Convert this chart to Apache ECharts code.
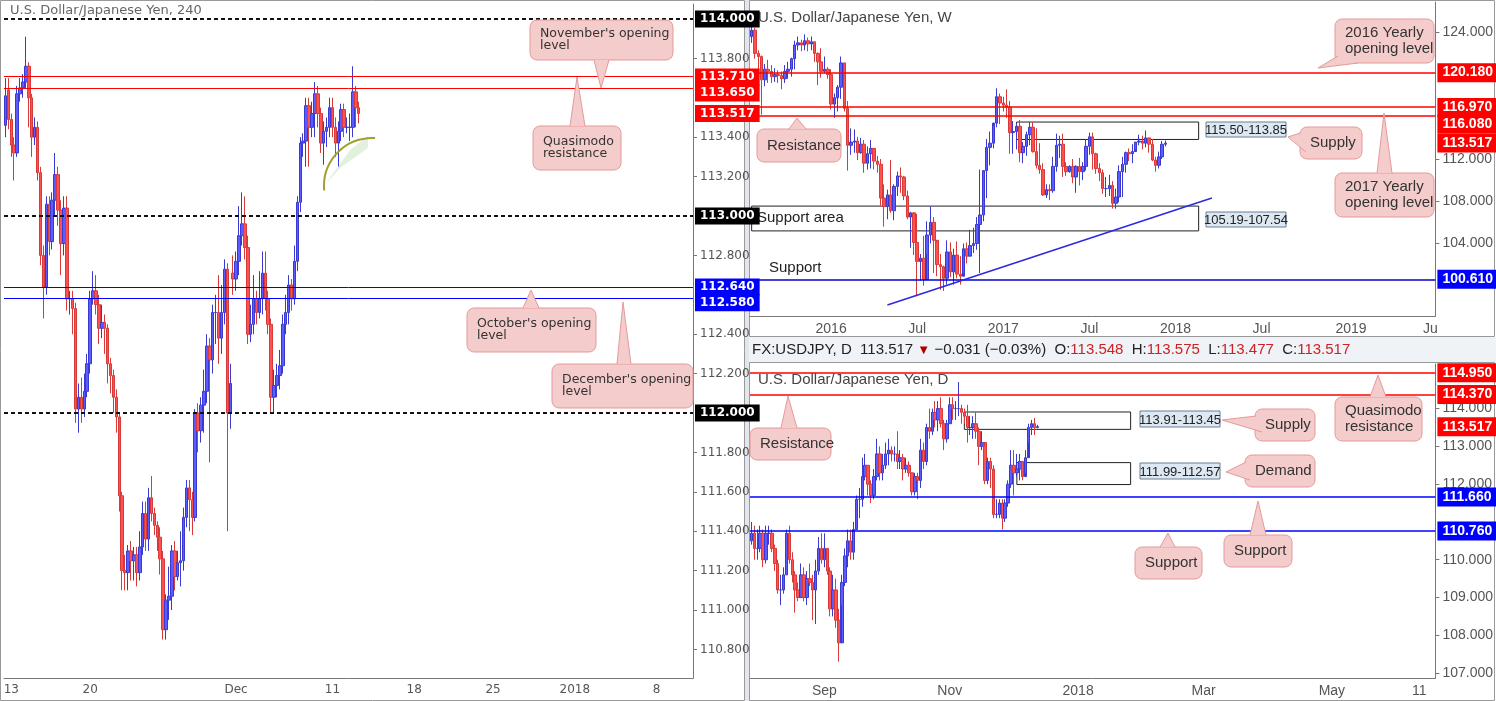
<!DOCTYPE html>
<html lang="en">
<head>
    <meta charset="UTF-8">
    <title>USDJPY</title>
    <script src="https://cdn.jsdelivr.net/npm/echarts@6/dist/echarts.min.js"></script>
    <style>
        html, body { margin: 0; padding: 0; background: #fff; }
        #main { width: 1496px; height: 701px; }
    </style>
</head>
<body>
<div id="main"></div>
<script>
// ---- 4h candles [open, close, low, high] ----
var h4Candles = [
 [113.46,113.61,113.40,113.70],[113.64,113.49,113.44,113.70],[113.49,113.36,113.30,113.52],[113.36,113.32,113.18,113.40],
 [113.32,113.62,113.30,113.66],[113.62,113.65,113.58,113.70],[113.65,113.68,113.60,113.72],[113.68,113.76,113.65,113.91],
 [113.76,113.60,113.45,113.78],[113.60,113.40,113.30,113.62],[113.40,113.45,113.36,113.50],[113.45,113.22,113.18,113.48],
 [113.22,112.80,112.75,113.25],[112.80,112.64,112.48,112.85],[112.64,113.06,112.60,113.10],[113.06,112.87,112.80,113.10],
 [112.87,113.08,112.83,113.12],[113.08,113.21,113.00,113.32],[113.21,113.03,112.95,113.25],[113.03,112.86,112.70,113.08],
 [112.86,113.04,112.80,113.10],[113.04,112.58,112.52,113.10],[112.58,112.58,112.50,112.62],[112.58,112.53,112.40,112.62],
 [112.53,112.02,111.95,112.56],[112.02,112.08,111.90,112.15],[112.08,112.02,111.95,112.18],[112.02,112.11,111.98,112.20],
 [112.11,112.25,112.08,112.30],[112.25,112.58,112.20,112.62],[112.58,112.62,112.55,112.72],[112.62,112.55,112.50,112.70],
 [112.55,112.43,112.35,112.60],[112.43,112.46,112.38,112.55],[112.46,112.43,112.30,112.50],[112.43,112.25,112.15,112.45],
 [112.25,112.19,112.10,112.28],[112.19,112.08,112.00,112.22],[112.08,111.98,111.90,112.12],[111.98,111.58,111.50,112.00],
 [111.58,111.20,111.10,111.60],[111.20,111.19,111.10,111.28],[111.19,111.30,111.10,111.33],[111.30,111.25,111.15,111.35],
 [111.25,111.28,111.15,111.32],[111.28,111.19,111.12,111.32],[111.19,111.32,111.15,111.40],[111.32,111.49,111.28,111.55],
 [111.49,111.36,111.30,111.55],[111.36,111.57,111.30,111.62],[111.57,111.49,111.45,111.68],[111.49,111.43,111.38,111.52],
 [111.43,111.37,111.30,111.45],[111.37,111.26,111.18,111.42],[111.26,110.90,110.85,111.30],[110.90,111.05,110.85,111.08],
 [111.05,111.07,110.95,111.22],[111.07,111.30,111.00,111.33],[111.30,111.17,111.10,111.35],[111.17,111.24,111.15,111.30],
 [111.24,111.25,111.12,111.40],[111.25,111.47,111.20,111.52],[111.47,111.62,111.42,111.66],[111.62,111.56,111.40,111.66],
 [111.56,111.47,111.38,111.60],[111.47,112.00,111.45,112.02],[112.00,111.91,111.80,112.05],[111.91,112.04,111.85,112.08],
 [112.04,112.11,111.90,112.22],[112.11,112.34,112.05,112.40],[112.34,112.27,111.75,112.38],[112.27,112.51,112.20,112.55],
 [112.51,112.51,112.35,112.60],[112.51,112.38,112.25,112.70],[112.38,112.51,112.30,112.65],[112.51,112.73,112.45,112.78],
 [112.73,112.00,111.40,112.76],[112.00,112.15,111.92,112.25],[112.71,112.68,112.60,112.80],[112.68,112.77,112.62,112.82],
 [112.77,112.90,112.70,113.05],[112.90,112.96,112.85,113.12],[112.96,112.84,112.78,113.10],[112.84,112.40,112.35,112.90],
 [112.40,112.45,112.36,112.55],[112.45,112.58,112.40,112.70],[112.58,112.51,112.45,112.62],[112.51,112.58,112.48,112.72],
 [112.58,112.71,112.50,112.82],[112.71,112.58,112.52,112.82],[112.58,112.45,112.40,112.62],[112.45,112.08,112.00,112.48],
 [112.08,112.14,112.00,112.22],[112.14,112.19,112.08,112.25],[112.19,112.24,112.12,112.32],[112.24,112.45,112.20,112.50],
 [112.45,112.51,112.40,112.60],[112.51,112.65,112.45,112.70],[112.65,112.58,112.52,112.68],[112.58,112.77,112.55,112.85],
 [112.77,113.07,112.72,113.10],[113.07,113.37,113.02,113.40],[113.37,113.38,113.30,113.42],[113.38,113.56,113.25,113.60],
 [113.56,113.45,113.25,113.60],[113.45,113.52,113.40,113.58],[113.52,113.62,113.40,113.68],[113.62,113.52,113.45,113.66],
 [113.52,113.37,113.32,113.55],[113.37,113.43,113.26,113.48],[113.43,113.45,113.35,113.50],[113.45,113.55,113.40,113.60],
 [113.55,113.45,113.40,113.60],[113.45,113.37,113.30,113.50],[113.37,113.43,113.25,113.48],[113.43,113.54,113.38,113.57],
 [113.54,113.45,113.40,113.57],[113.45,113.45,113.42,113.50],[113.45,113.45,113.38,113.52],[113.45,113.63,113.40,113.76],
 [113.63,113.55,113.45,113.66],[113.55,113.52,113.47,113.58]
];
var h4Slots = 236;
var h4TickIdx = [2, 29, 79, 112, 140, 167, 195, 223];
var h4TickText = ['13', '20', 'Dec', '11', '18', '25', '2018', '8'];
var h4AxisValues = [110.8, 111, 111.2, 111.4, 111.6, 111.8, 112.2, 112.4, 112.8, 113.2, 113.4, 113.8];

// ---- weekly ----
var wkOpen0 = 123.6;
var wkClose = [124.2,122.0,121.7,
 119.5,120.5,120.3,119.8,120.0,119.9,119.6,120.3,120.5,
 121.5,122.8,123.0,122.8,123.2,122.9,123.1,
 122.0,121.2,120.3,120.5,120.0,
 117.2,117.8,118.8,121.1,116.8,113.3,113.6,113.7,112.6,113.4,111.6,112.5,113.0,111.8,111.5,108.3,107.5,
 108.6,107.1,109.4,110.4,110.3,108.5,106.5,106.9,104.1,102.3,
 102.6,100.6,104.8,106.0,104.3,
 102.0,101.8,100.7,103.2,
 101.3,102.9,101.1,100.9,103.5,102.8,103.8,104.0,105.8,106.7,
 110.9,113.1,113.5,115.4,117.9,117.3,117.1,
 116.9,114.5,114.6,115.1,112.6,113.2,114.3,115.0,
 112.7,111.4,111.0,108.6,109.1,109.0,111.3,113.3,113.4,111.3,
 110.8,111.3,110.3,111.3,110.8,111.3,113.2,114.1,112.5,111.1,
 110.7,109.2,109.2,109.5,107.8,108.4,110.8,111.5,
 112.6,112.5,112.7,113.6,113.7,113.5,114.0,113.4,111.9,111.4,112.2,113.4,113.5];
var wkHigh = [125.0,124.4,122.3,
 121.8,121.0,121.4,120.9,120.6,120.4,120.3,120.9,121.2,
 121.6,123.2,123.6,123.3,123.8,123.5,123.6,
 123.1,122.1,122.5,121.7,120.7,
 120.5,118.2,119.0,121.7,121.1,117.5,114.9,114.8,114.1,114.0,113.8,113.2,113.8,113.0,112.3,112.0,109.6,
 109.1,111.9,109.6,110.8,111.2,110.4,109.0,107.0,106.8,106.8,
 103.0,104.7,106.1,107.5,106.5,
 104.1,103.0,101.9,104.3,
 104.1,103.5,104.2,102.8,104.0,104.1,105.3,105.5,106.5,111.0,
 110.9,113.9,114.6,115.1,118.7,118.2,117.9,
 118.6,117.5,115.6,115.4,115.7,113.6,114.6,115.5,
 115.5,114.9,113.5,111.6,109.6,109.6,112.2,114.4,114.2,114.4,
 111.7,111.4,112.0,111.4,112.1,111.7,113.9,114.5,114.5,112.6,
 111.6,111.0,110.3,110.5,109.9,109.2,111.4,112.2,
 112.7,113.0,113.4,113.6,114.3,114.2,114.7,114.0,113.9,112.2,112.7,113.7,113.75];
var wkLow = [123.0,121.5,118.6,
 116.2,118.9,119.2,119.2,119.3,119.2,118.6,119.2,119.6,
 119.8,120.5,122.3,122.2,122.3,122.2,122.3,
 121.2,119.0,119.7,120.1,119.6,
 116.7,115.9,116.5,117.7,116.5,110.9,112.4,112.6,111.9,112.5,110.7,111.0,111.1,111.0,110.7,107.6,105.6,
 106.3,106.9,106.2,108.5,108.8,108.1,106.3,103.6,102.9,99.0,
 100.5,100.0,103.0,104.0,101.2,
 100.9,99.6,99.5,100.1,
 100.8,100.1,100.7,100.1,101.2,102.1,102.8,103.1,103.4,101.2,
 106.1,108.3,111.4,113.0,115.0,115.3,116.5,
 115.9,112.5,112.5,112.9,111.7,111.6,112.3,113.3,
 112.6,111.1,110.6,108.5,108.3,108.1,108.8,110.8,112.1,110.3,
 110.4,110.7,109.7,108.8,109.5,110.0,110.9,112.4,111.0,110.6,
 109.9,108.7,108.4,108.5,107.3,107.3,107.9,108.4,
 110.7,111.8,111.6,112.9,113.3,112.9,113.1,112.6,111.8,110.8,111.1,112.0,113.2];
var wkSlots = 207;
var wkTickIdx = [24, 50, 76, 102, 128, 154, 181, 205];
var wkTickText = ['2016', 'Jul', '2017', 'Jul', '2018', 'Jul', '2019', 'Ju'];
var wkAxisValues = [124, 112, 108, 104];

// ---- daily ----
var dOpen0 = 110.5;
var dClose = [110.7,110.3,110.3,110.7,110.0,110.7,110.7,110.3,109.9,109.2,109.2,109.6,110.7,110.0,109.6,109.2,109.0,109.6,109.0,109.5,109.4,109.2,109.7,110.3,110.0,
 110.3,109.7,108.7,109.2,108.4,107.8,109.4,110.1,110.5,110.2,110.8,111.6,111.6,112.2,112.5,112.0,111.7,112.2,112.8,112.3,112.5,
 112.8,112.9,112.8,112.8,112.6,112.7,112.4,112.5,112.3,111.8,112.2,112.1,112.9,112.6,113.5,113.4,113.9,113.7,114.0,113.6,113.2,113.6,
 114.1,114.0,114.0,114.0,113.9,113.8,113.5,113.5,113.6,113.4,113.0,113.1,112.1,112.6,112.4,111.2,111.2,111.5,111.1,111.5,112.0,112.5,
 112.3,112.4,112.6,112.2,112.7,113.5,113.6,113.5,113.52];
var dHigh = [111.0,110.9,110.8,110.9,110.8,110.9,110.9,110.8,110.4,110.0,109.6,109.8,110.8,110.9,110.2,109.7,109.4,109.9,109.8,109.7,109.9,109.6,110.0,110.6,110.7,
 110.7,110.3,109.8,109.6,109.5,108.7,109.6,110.3,110.8,110.8,111.0,111.7,111.9,112.7,112.8,112.5,112.1,112.4,113.2,113.0,112.8,
 113.1,113.2,113.0,113.0,113.4,112.9,112.8,112.7,112.6,112.3,112.3,112.3,113.2,113.1,113.6,114.0,114.0,114.2,114.2,114.3,113.7,113.7,
 114.3,114.3,114.2,114.7,114.1,114.0,114.1,113.8,113.8,113.9,113.5,113.4,113.0,112.7,112.7,112.5,111.6,111.6,111.6,111.6,112.1,112.9,
 112.9,112.8,112.8,112.6,112.9,113.6,113.7,113.75,113.57];
var dLow = [110.4,110.0,110.0,110.2,109.8,109.9,110.4,110.2,109.7,109.1,108.8,109.1,109.6,109.9,109.4,108.6,108.9,109.0,108.9,108.8,109.3,108.4,108.3,109.6,109.9,
 109.8,109.6,108.5,108.5,108.2,107.3,108.8,109.3,109.8,110.0,110.0,110.8,111.1,111.4,112.1,111.7,111.5,111.6,112.1,112.1,112.1,
 112.4,112.5,112.6,112.6,112.4,112.4,112.1,112.3,112.2,111.7,111.7,111.6,111.9,112.4,112.5,113.2,113.3,113.5,113.4,113.5,112.9,113.1,
 113.6,113.7,113.7,113.8,113.6,113.6,113.1,113.3,113.2,113.2,112.5,112.9,112.0,112.0,111.9,111.1,111.1,111.1,110.8,111.0,111.4,111.9,
 111.7,112.2,112.1,112.1,112.3,113.1,113.3,113.3,113.48];
var dSlots = 235;
var dTickIdx = [25, 68, 112, 155, 199, 229];
var dTickText = ['Sep', 'Nov', '2018', 'Mar', 'May', '11'];
var dAxisValues = [114, 113, 112, 110, 109, 108, 107];

var NARROW = '"Liberation Sans Narrow", "Liberation Sans", Arial, sans-serif';
var WIDE = '"DejaVu Sans", Verdana, sans-serif';
var UP = '#5b5bff', DOWN = '#ff5050';

function ohlc(open0, close, low, high) {
    var out = [], prev = open0;
    for (var i = 0; i < close.length; i++) {
        out.push([prev, close[i], low[i], high[i]]);
        prev = close[i];
    }
    return out;
}
function slots(n, idx, txt) {
    var a = [];
    for (var i = 0; i < n; i++) a.push('');
    idx.forEach(function (k, j) { a[k] = txt[j]; });
    return a;
}
// horizontal level with its price tag on the right axis; dy nudges the tag
function hline(v, color, width, type, bg, font, size, dy) {
    return {
        yAxis: v,
        lineStyle: {color: width ? color : 'rgba(0,0,0,0)', width: width || 1, type: type},
        label: {
            show: true, position: 'end', distance: 2, offset: [0, dy || 0],
            formatter: v.toFixed(3), color: '#fff', fontWeight: 'bold',
            backgroundColor: bg, padding: [3, 5, 2, 5], fontFamily: font, fontSize: size
        }
    };
}
function xAxisCfg(grid, n, idx, txt, font, size) {
    return {
        type: 'category', gridIndex: grid, data: slots(n, idx, txt), boundaryGap: true,
        axisLine: {lineStyle: {color: '#777'}}, axisTick: {show: false},
        axisLabel: {interval: 0, color: '#555', fontFamily: font, fontSize: size, margin: 6},
        splitLine: {show: false}
    };
}
function yAxisCfg(grid, min, max, vals, font, size) {
    return {
        type: 'value', gridIndex: grid, position: 'right', min: min, max: max, scale: true,
        axisLine: {show: true, lineStyle: {color: '#777'}},
        axisTick: {show: true, customValues: vals, length: 4, lineStyle: {color: '#777'}},
        axisLabel: {customValues: vals, color: '#555', fontFamily: font, fontSize: size, margin: 7,
            formatter: function (v) { return v.toFixed(3); }},
        splitLine: {show: false}
    };
}
function candleStyle() {
    return {color: UP, color0: DOWN, borderColor: '#3a3ad0', borderColor0: '#d83a3a', borderWidth: 1};
}

var CALL_FILL = '#f4cccc', CALL_STROKE = '#e59999';
function callout(box, b1, tip, b2, text, font, size, lh) {
    return [
        {type: 'rect', shape: {x: box[0], y: box[1], width: box[2], height: box[3], r: 7},
            style: {fill: CALL_FILL, stroke: CALL_STROKE, lineWidth: 1}, z: 10},
        {type: 'polygon', shape: {points: [b1, tip, b2]}, style: {fill: CALL_FILL}, z: 11},
        {type: 'polyline', shape: {points: [b1, tip, b2]}, style: {stroke: CALL_STROKE, fill: null, lineWidth: 1}, z: 11},
        {type: 'text', x: box[0] + 10, y: box[1] + box[3] / 2, z: 12,
            style: {text: text, fill: '#333', font: size + 'px ' + font, lineHeight: lh, verticalAlign: 'middle'}}
    ];
}
function rangeTag(x, y, w, h, text) {
    return [
        {type: 'rect', shape: {x: x, y: y, width: w, height: h}, style: {fill: '#dde8f3', stroke: '#6a7f8f'}, z: 10},
        {type: 'text', x: x + w / 2, y: y + h / 2 + 1, z: 11,
            style: {text: text, fill: '#222', font: '13px ' + NARROW, align: 'center', verticalAlign: 'middle'}}
    ];
}

var graphics = [
    {type: 'rect', shape: {x: 745, y: 0, width: 5, height: 701}, style: {fill: '#e3e6ec'}, z: -5},
    {type: 'rect', shape: {x: 0.5, y: 0.5, width: 744, height: 700}, style: {fill: null, stroke: '#999'}, z: -4},
    {type: 'rect', shape: {x: 749.5, y: 0.5, width: 745, height: 336}, style: {fill: null, stroke: '#999'}, z: -4},
    {type: 'rect', shape: {x: 749, y: 337, width: 747, height: 25}, style: {fill: '#eff2f6'}, z: -4},
    {type: 'rect', shape: {x: 749.5, y: 362.5, width: 745, height: 338}, style: {fill: null, stroke: '#999'}, z: -4},
    {type: 'text', x: 10, y: 11, style: {text: 'U.S. Dollar/Japanese Yen, 240', fill: '#666', font: '13px ' + WIDE, verticalAlign: 'middle', backgroundColor: 'rgba(255,255,255,0.6)'}, z: 5},
    {type: 'text', x: 758, y: 18, style: {text: 'U.S. Dollar/Japanese Yen, W', fill: '#444', font: '15px ' + NARROW, verticalAlign: 'middle'}, z: 5},
    {type: 'text', x: 758, y: 380, style: {text: 'U.S. Dollar/Japanese Yen, D', fill: '#444', font: '15px ' + NARROW, verticalAlign: 'middle'}, z: 5},
    {type: 'text', x: 752, y: 350, z: 5, style: {
        text: '{b|FX:USDJPY, D  113.517 }{d|▼}{b| −0.031 (−0.03%)  O:}{r|113.548}{b|  H:}{r|113.575}{b|  L:}{r|113.477}{b|  C:}{r|113.517}',
        verticalAlign: 'middle',
        rich: {b: {fill: '#222', font: '15px ' + NARROW}, r: {fill: '#c22', font: '15px ' + NARROW}, d: {fill: '#a00', font: '13px ' + NARROW}}
    }},
    {type: 'text', x: 757, y: 218, style: {text: 'Support area', fill: '#222', font: '15px ' + NARROW, verticalAlign: 'middle'}, z: 5},
    {type: 'text', x: 769, y: 268, style: {text: 'Support', fill: '#222', font: '15px ' + NARROW, verticalAlign: 'middle'}, z: 5},
    {type: 'polygon', shape: {points: [[324, 186], [350, 150], [368, 136], [368, 148], [340, 168]]}, style: {fill: 'rgba(170,215,160,0.35)'}, z: 3},
    {type: 'arc', shape: {cx: 372, cy: 186, r: 48, startAngle: Math.PI * 0.97, endAngle: Math.PI * 1.52}, style: {stroke: '#a0a030', lineWidth: 2, fill: null}, z: 3}
];
graphics = graphics
    .concat(callout([530, 20, 143, 40], [594, 60], [601, 88], [609, 60], "November's opening\nlevel", WIDE, 12.5, 12))
    .concat(callout([533, 126, 88, 44], [570, 126], [577, 77], [585, 126], 'Quasimodo\nresistance', WIDE, 12.5, 12))
    .concat(callout([467, 308, 129, 44], [523, 308], [531, 290], [539, 308], "October's opening\nlevel", WIDE, 12.5, 12))
    .concat(callout([552, 364, 141, 44], [617, 364], [623, 302], [631, 364], "December's opening\nlevel", WIDE, 12.5, 12))
    .concat(callout([1335, 19, 99, 44], [1338, 56], [1318, 68], [1358, 63], '2016 Yearly\nopening level', NARROW, 15, 16))
    .concat(callout([757, 129, 84, 33], [789, 129], [797, 118], [806, 129], 'Resistance', NARROW, 15, 16))
    .concat(callout([1300, 127, 62, 32], [1300, 133], [1288, 137], [1306, 152], 'Supply', NARROW, 15, 16))
    .concat(callout([1335, 173, 99, 44], [1377, 173], [1384, 113], [1392, 173], '2017 Yearly\nopening level', NARROW, 15, 16))
    .concat(callout([750, 428, 81, 32], [781, 428], [788, 396], [797, 428], 'Resistance', NARROW, 15, 16))
    .concat(callout([1255, 409, 60, 32], [1256, 416], [1222, 420], [1262, 432], 'Supply', NARROW, 15, 16))
    .concat(callout([1245, 455, 70, 32], [1246, 462], [1226, 472], [1250, 480], 'Demand', NARROW, 15, 16))
    .concat(callout([1335, 397, 87, 44], [1370, 397], [1378, 375], [1386, 397], 'Quasimodo\nresistance', NARROW, 15, 16))
    .concat(callout([1135, 547, 67, 32], [1160, 547], [1168, 533], [1175, 547], 'Support', NARROW, 15, 16))
    .concat(callout([1224, 535, 68, 32], [1250, 535], [1258, 501], [1266, 535], 'Support', NARROW, 15, 16))
    .concat(rangeTag(1206, 122, 80, 15, '115.50-113.85'))
    .concat(rangeTag(1206, 212, 80, 15, '105.19-107.54'))
    .concat(rangeTag(1140, 411, 80, 16, '113.91-113.45'))
    .concat(rangeTag(1140, 463, 80, 16, '111.99-112.57'));

var boxStyle = {color: 'rgba(0,0,0,0)', borderColor: '#222', borderWidth: 1};

var option = {
    animation: false,
    grid: [
        {left: 4, top: 4, width: 689, height: 674},
        {left: 750, top: 2, width: 690, height: 314},
        {left: 750, top: 364, width: 690, height: 314}
    ],
    xAxis: [
        xAxisCfg(0, h4Slots, h4TickIdx, h4TickText, WIDE, 12),
        xAxisCfg(1, wkSlots, wkTickIdx, wkTickText, NARROW, 14),
        xAxisCfg(2, dSlots, dTickIdx, dTickText, NARROW, 14)
    ],
    yAxis: [
        yAxisCfg(0, 110.655, 114.076, h4AxisValues, WIDE, 12),
        yAxisCfg(1, 97.13, 126.87, wkAxisValues, NARROW, 14),
        yAxisCfg(2, 106.87, 115.18, dAxisValues, NARROW, 14)
    ],
    graphic: graphics,
    series: [
        {
            type: 'candlestick', xAxisIndex: 0, yAxisIndex: 0, data: h4Candles,
            itemStyle: candleStyle(), barWidth: 3,
            markLine: {
                symbol: 'none', silent: true,
                data: [
                    hline(114, '#111', 2, [4, 3], '#000', WIDE, 12),
                    hline(113, '#111', 2, [4, 3], '#000', WIDE, 12),
                    hline(112, '#111', 2, [4, 3], '#000', WIDE, 12),
                    hline(113.71, '#f00', 1, 'solid', '#f00', WIDE, 12, 1),
                    hline(113.65, '#f00', 1, 'solid', '#f00', WIDE, 12, 5),
                    hline(113.517, '#f00', 0, 'solid', '#f00', WIDE, 12),
                    hline(112.64, '#00f', 1, 'solid', '#00f', WIDE, 12),
                    hline(112.58, '#00f', 1, 'solid', '#00f', WIDE, 12, 4)
                ]
            }
        },
        {
            type: 'candlestick', xAxisIndex: 1, yAxisIndex: 1, data: ohlc(wkOpen0, wkClose, wkLow, wkHigh),
            itemStyle: candleStyle(), barWidth: 3,
            markArea: {
                silent: true, itemStyle: boxStyle,
                data: [
                    [{xAxis: 80, yAxis: 115.5}, {xAxis: 135, yAxis: 113.85}],
                    [{xAxis: 0, yAxis: 107.54}, {xAxis: 135, yAxis: 105.19}]
                ]
            },
            markLine: {
                symbol: 'none', silent: true,
                data: [
                    hline(120.18, '#f00', 1.5, 'solid', '#f00', NARROW, 14),
                    hline(116.97, '#f00', 1.5, 'solid', '#f00', NARROW, 14, 1),
                    hline(116.08, '#f00', 1.5, 'solid', '#f00', NARROW, 14, 8),
                    hline(113.517, '#f00', 0, 'solid', '#f00', NARROW, 14),
                    hline(100.61, '#00c', 1.5, 'solid', '#00f', NARROW, 14),
                    [{coord: [41, 98.18], lineStyle: {color: '#2a2ae0', width: 1.5, type: 'solid'}, label: {show: false}},
                     {coord: [139, 108.31]}]
                ]
            }
        },
        {
            type: 'candlestick', xAxisIndex: 2, yAxisIndex: 2, data: ohlc(dOpen0, dClose, dLow, dHigh),
            itemStyle: candleStyle(), barWidth: 3,
            markArea: {
                silent: true, itemStyle: boxStyle,
                data: [
                    [{xAxis: 73, yAxis: 113.91}, {xAxis: 130, yAxis: 113.45}],
                    [{xAxis: 91, yAxis: 112.57}, {xAxis: 130, yAxis: 111.99}]
                ]
            },
            markLine: {
                symbol: 'none', silent: true,
                data: [
                    hline(114.95, '#f00', 1.5, 'solid', '#f00', NARROW, 14),
                    hline(114.37, '#f00', 1.5, 'solid', '#f00', NARROW, 14),
                    hline(113.517, '#f00', 0, 'solid', '#f00', NARROW, 14),
                    hline(111.66, '#00f', 1.5, 'solid', '#00f', NARROW, 14),
                    hline(110.76, '#00f', 1.5, 'solid', '#00f', NARROW, 14)
                ]
            }
        }
    ]
};

var myChart = echarts.init(document.getElementById('main'));
myChart.setOption(option);
</script>
</body>
</html>
